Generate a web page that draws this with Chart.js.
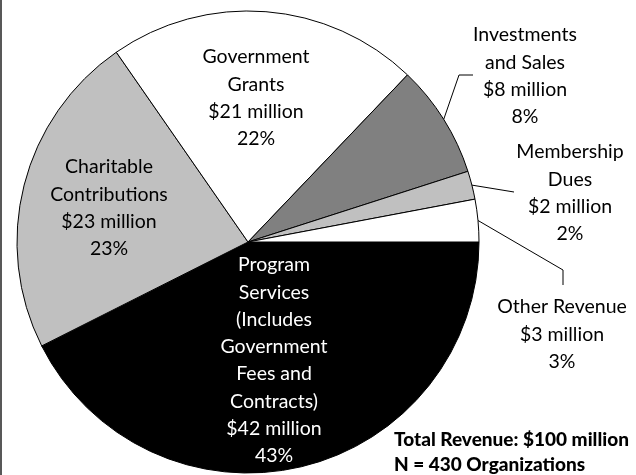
<!DOCTYPE html>
<html>
<head>
<meta charset="utf-8">
<script src="https://cdn.jsdelivr.net/npm/chart.js@4"></script>
<style>
  html, body { margin: 0; padding: 0; background: #fff; }
  #wrap { position: relative; width: 636px; height: 475px; }
</style>
</head>
<body>
<div id="wrap"><canvas id="revenueChart" width="636" height="475"></canvas></div>
<script>
// Revenue sources
const categories = ['Program Services', 'Charitable Contributions', 'Government Grants',
                    'Investments and Sales', 'Membership Dues', 'Other Revenue'];
const millions = [42, 23, 21, 8, 2, 3];
const percents = [43, 23, 22, 8, 2, 3];
const sliceColors = ['#000000', '#c0c0c0', '#ffffff', '#808080', '#c0c0c0', '#ffffff'];

// Label text per slice (name lines, then amount and share)
const nameLines = [
    ['Program', 'Services', '(Includes', 'Government', 'Fees and', 'Contracts)'],
    ['Charitable', 'Contributions'],
    ['Government', 'Grants'],
    ['Investments', 'and Sales'],
    ['Membership', 'Dues'],
    ['Other Revenue']
];

// Where each label block sits: center x, first line y, text colour
const labelLayout = [
    { x: 274, y: 265, color: '#fff' },
    { x: 109, y: 167, color: '#000' },
    { x: 256, y: 57,  color: '#000' },
    { x: 525, y: 35,  color: '#000' },
    { x: 570, y: 152, color: '#000' },
    { x: 562, y: 307, color: '#000' }
];
const lineHeight = 27.3;

// Leader lines for the thin slices: bend points after the slice edge
const leaders = {
    3: [[459, 75], [473, 75]],
    4: [[514, 192]],
    5: [[563, 270], [563, 285]]
};

const notes = ['Total Revenue: $100 million', 'N = 430 Organizations'];

const labelPlugin = {
    id: 'sliceLabels',
    afterDraw(chart) {
        const ctx = chart.ctx;
        const arcs = chart.getDatasetMeta(0).data;
        ctx.save();

        // leader lines from the middle of each small slice's rim
        ctx.strokeStyle = '#000';
        ctx.lineWidth = 1;
        Object.keys(leaders).forEach(i => {
            const arc = arcs[i];
            const mid = (arc.startAngle + arc.endAngle) / 2;
            ctx.beginPath();
            ctx.moveTo(arc.x + Math.cos(mid) * arc.outerRadius, arc.y + Math.sin(mid) * arc.outerRadius);
            leaders[i].forEach(p => ctx.lineTo(p[0], p[1]));
            ctx.stroke();
        });

        // slice labels
        ctx.font = '19.5px Lato';
        ctx.textAlign = 'center';
        ctx.textBaseline = 'middle';
        categories.forEach((c, i) => {
            const pos = labelLayout[i];
            const lines = nameLines[i].concat(['$' + millions[i] + ' million', percents[i] + '%']);
            ctx.fillStyle = pos.color;
            lines.forEach((t, k) => ctx.fillText(t, pos.x, pos.y + k * lineHeight));
        });

        // totals note
        ctx.font = '900 19px Lato';
        ctx.textAlign = 'left';
        ctx.fillStyle = '#000';
        notes.forEach((t, k) => ctx.fillText(t, 394, 440 + k * 25));

        // frame edge on the left
        ctx.fillStyle = '#585858';
        ctx.fillRect(0, 0, 2, chart.height);
        ctx.restore();
    }
};

const ctx = document.getElementById('revenueChart').getContext('2d');
new Chart(ctx, {
    type: 'pie',
    data: {
        labels: categories,
        datasets: [{
            data: percents,
            backgroundColor: sliceColors,
            borderColor: '#000',
            borderWidth: 1
        }]
    },
    options: {
        responsive: false,
        animation: false,
        rotation: 90,
        radius: 231,
        layout: { padding: { left: 10, right: 150, top: 9, bottom: 0 } },
        plugins: {
            legend: { display: false },
            tooltip: { enabled: false }
        }
    },
    plugins: [labelPlugin]
});
</script>
</body>
</html>
